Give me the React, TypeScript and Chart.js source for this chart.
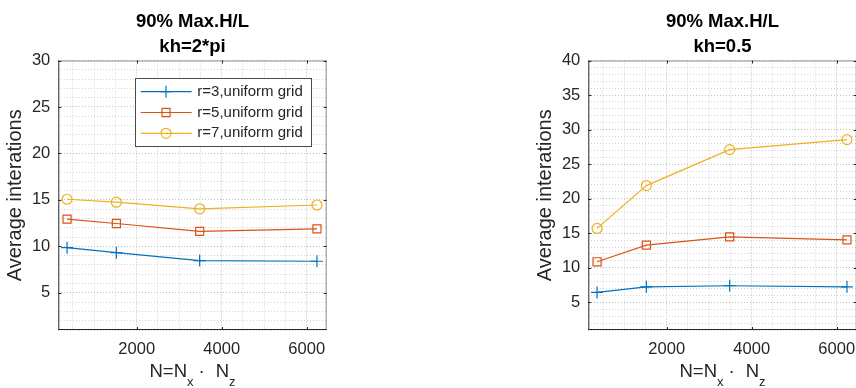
import React, { useEffect, useRef } from 'react';
import { Chart, registerables } from 'chart.js';

Chart.register(...registerables);

// ---- data ----
const nValues = [361, 1521, 3481, 6241];
const xTickValues = [2000, 4000, 6000];
const xMinorStep = 500;
const seriesLabels = ['r=3,uniform grid', 'r=5,uniform grid', 'r=7,uniform grid'];

const r3Kh2pi = [9.86, 9.32, 8.47, 8.4];
const r5Kh2pi = [12.93, 12.46, 11.62, 11.88];
const r7Kh2pi = [15.07, 14.75, 14.04, 14.45];

const r3Kh05 = [6.44, 7.25, 7.4, 7.25];
const r5Kh05 = [10.87, 13.28, 14.48, 14.04];
const r7Kh05 = [15.7, 21.9, 27.1, 28.55];

const leftTitle = ['90% Max.H/L', 'kh=2*pi'];
const rightTitle = ['90% Max.H/L', 'kh=0.5'];
const yLabel = 'Average interations';

// ---- styles ----
const SERIES_STYLE = [
  { color: '#0072BD', point: 'cross', radius: 6 },
  { color: '#D95319', point: 'rect', radius: 5.7 },
  { color: '#EDB120', point: 'circle', radius: 5 },
];
const FONT = '"Liberation Sans", Arial, Helvetica, sans-serif';
const TEXT = '#262626';
const GRID_MAJOR = '#bdbdbd';
const GRID_MINOR = '#d2d2d2';

function drawMarker(ctx: CanvasRenderingContext2D, style: string, x: number, y: number, r: number) {
  ctx.beginPath();
  if (style === 'cross') {
    ctx.moveTo(x - r, y); ctx.lineTo(x + r, y);
    ctx.moveTo(x, y - r); ctx.lineTo(x, y + r);
  } else if (style === 'rect') {
    const s = r * Math.SQRT1_2;
    ctx.rect(x - s, y - s, 2 * s, 2 * s);
  } else {
    ctx.arc(x, y, r, 0, Math.PI * 2);
  }
  ctx.stroke();
}

const isMajorX = (v: number) => xTickValues.includes(v);

const decorPlugin = {
  id: 'matlabDecor',
  afterDraw(chart: any, _args: any, opts: any) {
    const ctx: CanvasRenderingContext2D = chart.ctx;
    const { left, right, top, bottom } = chart.chartArea;
    const xs = chart.scales.x;
    const ys = chart.scales.y;
    ctx.save();
    // box
    ctx.lineWidth = 1;
    ctx.strokeStyle = '#8c8c8c';
    ctx.beginPath();
    ctx.moveTo(left, top + 0.5); ctx.lineTo(right, top + 0.5);
    ctx.moveTo(right - 0.5, top); ctx.lineTo(right - 0.5, bottom);
    ctx.stroke();
    ctx.strokeStyle = TEXT;
    ctx.beginPath();
    ctx.moveTo(left + 0.5, top); ctx.lineTo(left + 0.5, bottom);
    ctx.moveTo(left, bottom - 0.5); ctx.lineTo(right, bottom - 0.5);
    ctx.stroke();
    // inner ticks
    ctx.beginPath();
    xs.ticks.forEach((t: any) => {
      if (!isMajorX(t.value)) return;
      const px = Math.round(xs.getPixelForValue(t.value)) + 0.5;
      ctx.moveTo(px, bottom); ctx.lineTo(px, bottom - 3);
      ctx.moveTo(px, top); ctx.lineTo(px, top + 3);
    });
    ys.ticks.forEach((t: any) => {
      if (t.value % 5 !== 0) return;
      const py = Math.round(ys.getPixelForValue(t.value)) + 0.5;
      ctx.moveTo(left, py); ctx.lineTo(left + 3, py);
      ctx.moveTo(right, py); ctx.lineTo(right - 3, py);
    });
    ctx.stroke();

    const cx = (left + right) / 2;
    ctx.fillStyle = '#000';
    ctx.textAlign = 'center';
    ctx.textBaseline = 'middle';
    ctx.font = `bold 18.5px ${FONT}`;
    ctx.fillText(opts.title[0], cx, 22);
    ctx.fillText(opts.title[1], cx, 47);

    // y label
    ctx.fillStyle = TEXT;
    ctx.font = `20px ${FONT}`;
    ctx.save();
    ctx.translate(left - 43, (top + bottom) / 2);
    ctx.rotate(-Math.PI / 2);
    ctx.fillText(yLabel, 0, 0);
    ctx.restore();

    // x label N=N_x · N_z
    const parts = [
      { t: 'N=N', s: 18.5, dy: 0, gap: 0 },
      { t: 'x', s: 13, dy: 9, gap: 5 },
      { t: '·', s: 18.5, dy: 0, gap: 11 },
      { t: 'N', s: 18.5, dy: 0, gap: 0 },
      { t: 'z', s: 13, dy: 9, gap: 0 },
    ];
    let total = 0;
    parts.forEach((p) => {
      ctx.font = `${p.s}px ${FONT}`;
      total += ctx.measureText(p.t).width + p.gap;
    });
    let x0 = cx - total / 2;
    ctx.textAlign = 'left';
    ctx.textBaseline = 'alphabetic';
    parts.forEach((p) => {
      ctx.font = `${p.s}px ${FONT}`;
      ctx.fillText(p.t, x0, bottom + 47 + p.dy);
      x0 += ctx.measureText(p.t).width + p.gap;
    });

    // legend
    if (opts.legend) {
      const bx = left + 76.7, by = top + 17.8, bw = 175.7, bh = 67.7;
      ctx.fillStyle = '#fff';
      ctx.fillRect(bx, by, bw, bh);
      ctx.strokeStyle = '#4a4a4a';
      ctx.lineWidth = 1;
      ctx.strokeRect(Math.round(bx) + 0.5, Math.round(by) + 0.5, Math.round(bw), Math.round(bh));
      chart.data.datasets.forEach((ds: any, i: number) => {
        const st = SERIES_STYLE[i];
        const ry = by + 13.4 + i * 20.8;
        ctx.strokeStyle = st.color;
        ctx.lineWidth = 1.2;
        ctx.beginPath();
        ctx.moveTo(bx + 5.7, ry); ctx.lineTo(bx + 56.7, ry);
        ctx.stroke();
        drawMarker(ctx, st.point, bx + 31, ry, st.radius);
        ctx.fillStyle = TEXT;
        ctx.font = `15px ${FONT}`;
        ctx.textAlign = 'left';
        ctx.textBaseline = 'middle';
        ctx.fillText(ds.label, bx + 62.3, ry);
      });
    }
    ctx.restore();
  },
};

function makeConfig(series: number[][], yMax: number, title: string[], legend: boolean, canvasW: number): any {
  return {
    type: 'line',
    data: {
      datasets: series.map((vals, i) => ({
        label: seriesLabels[i],
        data: nValues.map((n, j) => ({ x: n, y: vals[j] })),
        borderColor: SERIES_STYLE[i].color,
        backgroundColor: 'transparent',
        borderWidth: 1.2,
        pointStyle: SERIES_STYLE[i].point,
        pointRadius: SERIES_STYLE[i].radius,
        pointBorderWidth: 1.2,
        pointBorderColor: SERIES_STYLE[i].color,
        pointBackgroundColor: 'transparent',
        tension: 0,
        fill: false,
      })),
    },
    options: {
      responsive: false,
      animation: false,
      devicePixelRatio: 1,
      layout: { padding: { top: 60.5, left: 0, right: canvasW - 326.7, bottom: 0 } },
      plugins: {
        legend: { display: false },
        tooltip: { enabled: false },
        matlabDecor: { title, legend },
      },
      scales: {
        x: {
          type: 'linear',
          position: 'bottom',
          min: 155,
          max: 6470,
          afterFit: (s: any) => { s.height = 58; },
          afterBuildTicks: (s: any) => {
            const t: { value: number }[] = [];
            for (let v = xMinorStep; v <= s.max; v += xMinorStep) if (v >= s.min) t.push({ value: v });
            s.ticks = t;
          },
          ticks: {
            autoSkip: false,
            maxRotation: 0,
            minRotation: 0,
            padding: 10,
            color: TEXT,
            font: { family: FONT, size: 16.5 },
            callback: (v: number) => (isMajorX(v) ? String(v) : ''),
          },
          grid: {
            drawTicks: false,
            lineWidth: 1,
            color: (c: any) => (c.tick && isMajorX(c.tick.value) ? GRID_MAJOR : GRID_MINOR),
          },
          border: { display: false, dash: [1, 2] },
        },
        y: {
          type: 'linear',
          position: 'left',
          min: 1,
          max: yMax,
          afterFit: (s: any) => { s.width = 58.3; },
          ticks: {
            stepSize: 1,
            includeBounds: false,
            autoSkip: false,
            padding: 8,
            color: TEXT,
            font: { family: FONT, size: 16.5 },
            callback: (v: number) => (v % 5 === 0 ? String(v) : ''),
          },
          grid: {
            drawTicks: false,
            lineWidth: 1,
            color: (c: any) => (c.tick && c.tick.value % 5 === 0 ? GRID_MAJOR : GRID_MINOR),
          },
          border: { display: false, dash: [1, 2] },
        },
      },
    },
    plugins: [decorPlugin],
  };
}

const LEFT_W = 430;
const RIGHT_W = 340;

export default function App() {
  const leftRef = useRef<HTMLCanvasElement>(null);
  const rightRef = useRef<HTMLCanvasElement>(null);

  useEffect(() => {
    const c1 = new Chart(leftRef.current!, makeConfig([r3Kh2pi, r5Kh2pi, r7Kh2pi], 30, leftTitle, true, LEFT_W));
    const c2 = new Chart(rightRef.current!, makeConfig([r3Kh05, r5Kh05, r7Kh05], 40, rightTitle, false, RIGHT_W));
    return () => { c1.destroy(); c2.destroy(); };
  }, []);

  return (
    <div style={{ position: 'fixed', left: 0, top: 0, width: 856, height: 388, overflow: 'hidden', background: '#fff' }}>
      <canvas ref={leftRef} width={LEFT_W} height={388} style={{ position: 'absolute', left: 0, top: 0 }} />
      <canvas ref={rightRef} width={RIGHT_W} height={388} style={{ position: 'absolute', left: 530, top: 0 }} />
    </div>
  );
}
